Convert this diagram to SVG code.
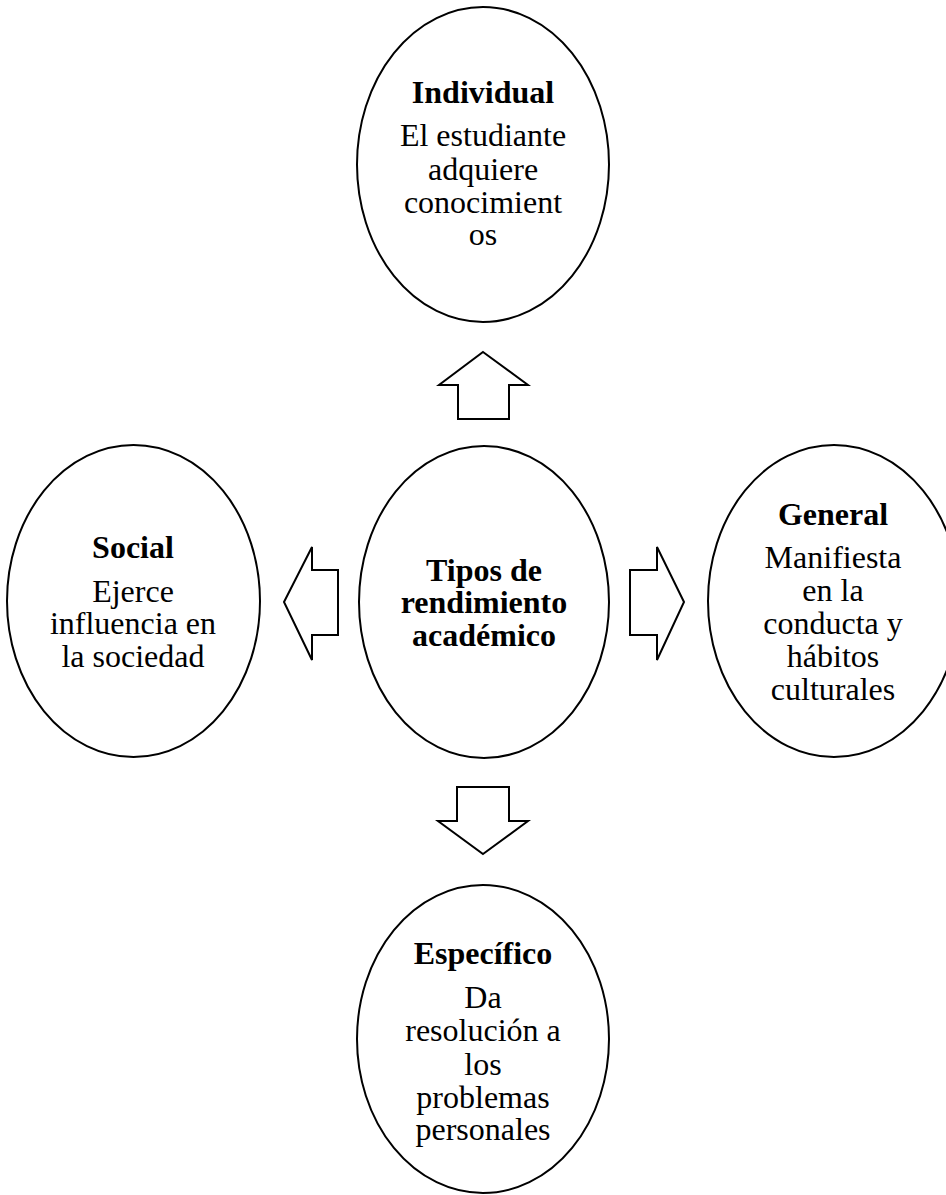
<svg xmlns="http://www.w3.org/2000/svg" width="946" height="1195" viewBox="0 0 946 1195">
<style>
.node ellipse{fill:#fff;stroke:#000;stroke-width:2}
.arrow{fill:#fff;stroke:#000;stroke-width:2;stroke-linejoin:miter}
text{font-family:"Liberation Serif","Times New Roman",serif;font-size:32px;fill:#000;text-anchor:middle}
.t{font-weight:bold}
</style>
<rect width="946" height="1195" fill="#fff"/>
<g id="connectors">
<polygon class="arrow" points="483,352 528,385 509,385 509,419 458,419 458,385 439,385"/>
<polygon class="arrow" points="284,602 312,547 312,570 338,570 338,635 312,635 312,660"/>
<polygon class="arrow" points="684,602 657,547 657,570 630,570 630,635 657,635 657,660"/>
<polygon class="arrow" points="483,854 528,821 509,821 509,787 457,787 457,821 438,821"/>
</g>
<g id="node-individual" class="node">
<ellipse cx="483" cy="164.5" rx="126" ry="157.5"/>
<text class="t" x="483" y="103">Individual</text>
<text x="483" y="146">El estudiante</text>
<text x="483" y="180">adquiere</text>
<text x="483" y="213">conocimient</text>
<text x="483" y="245">os</text>
</g>
<g id="node-center" class="node">
<ellipse cx="484" cy="602" rx="125" ry="156"/>
<text class="t" x="484" y="581">Tipos de</text>
<text class="t" x="484" y="613">rendimiento</text>
<text class="t" x="484" y="646">académico</text>
</g>
<g id="node-social" class="node">
<ellipse cx="133.5" cy="601" rx="126.5" ry="156"/>
<text class="t" x="133" y="558">Social</text>
<text x="133" y="602">Ejerce</text>
<text x="133" y="634">influencia en</text>
<text x="133" y="667">la sociedad</text>
</g>
<g id="node-general" class="node">
<ellipse cx="834" cy="601" rx="126" ry="156"/>
<text class="t" x="833" y="525">General</text>
<text x="833" y="568">Manifiesta</text>
<text x="833" y="601">en la</text>
<text x="833" y="634">conducta y</text>
<text x="833" y="667">hábitos</text>
<text x="833" y="700">culturales</text>
</g>
<g id="node-especifico" class="node">
<ellipse cx="483" cy="1039" rx="126" ry="154"/>
<text class="t" x="483" y="964">Específico</text>
<text x="483" y="1008">Da</text>
<text x="483" y="1041">resolución a</text>
<text x="483" y="1075">los</text>
<text x="483" y="1108">problemas</text>
<text x="483" y="1140">personales</text>
</g>
</svg>
